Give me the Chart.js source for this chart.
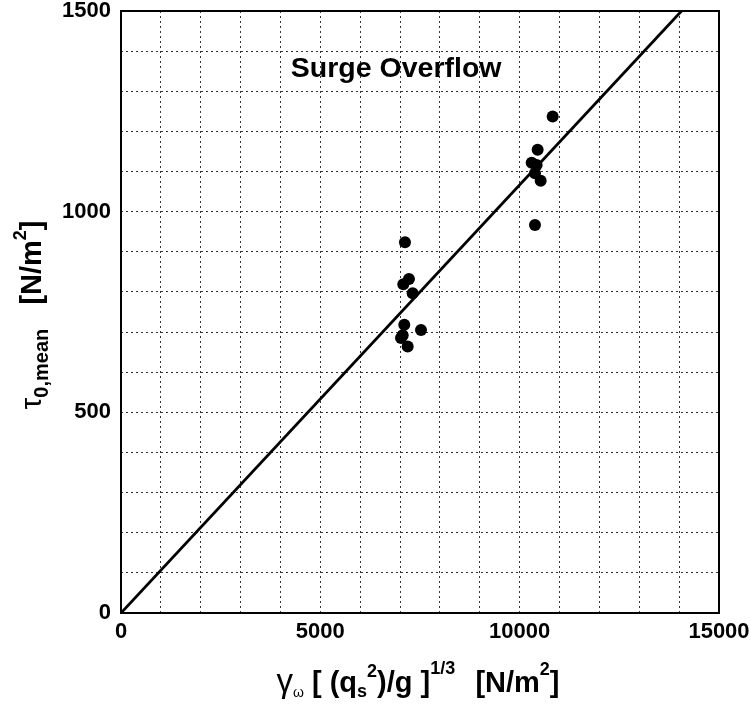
<!DOCTYPE html>
<html>
<head>
<meta charset="utf-8">
<script src="https://cdn.jsdelivr.net/npm/chart.js@4/dist/chart.umd.min.js"></script>
<style>
  html, body { margin: 0; padding: 0; background: #ffffff; }
  #wrap { width: 751px; height: 715px; position: relative; }
</style>
</head>
<body>
<div id="wrap"><canvas id="c" width="751" height="715"></canvas></div>
<script>
// ---- data ----
const measuredX = [10828, 10451, 10301, 10426, 10384, 10527, 10384, 7123, 7223, 7081, 7316, 7106, 7525, 7066, 7023, 7191];
const measuredY = [1237, 1154, 1122, 1116, 1096, 1077, 967, 924, 832, 819, 797, 718, 705, 692, 685, 664];
const fitLineX = [0, 14060];
const fitLineY = [0, 1500];
const xLabelTicks = [0, 5000, 10000, 15000];
const yLabelTicks = [0, 500, 1000, 1500];
const annotationText = 'Surge Overflow';
const annotationAt = [4260, 1336];

const FONT = '"Liberation Sans", Arial, Helvetica, sans-serif';

function drawRich(ctx, segs, align) {
  let total = 0;
  for (const s of segs) {
    ctx.font = (s.bold ? 'bold ' : '') + s.size + 'px ' + FONT;
    s.w = ctx.measureText(s.t).width;
    total += s.w + (s.pre || 0);
  }
  let x = align === 'center' ? -total / 2 : 0;
  for (const s of segs) {
    ctx.font = (s.bold ? 'bold ' : '') + s.size + 'px ' + FONT;
    x += (s.pre || 0);
    ctx.fillText(s.t, x, s.dy || 0);
    x += s.w;
  }
}

const S = 29, sm = 18;
const xTitle = [
  {t: 'γ', size: 33, bold: false},
  {t: 'ω', size: 14, bold: false, dy: 5},
  {t: ' [ (q', size: S, bold: true},
  {t: 's', size: sm, bold: true, dy: 5},
  {t: '2', size: sm, bold: true, dy: -15},
  {t: ')/g ]', size: S, bold: true},
  {t: '1/3', size: sm, bold: true, dy: -18},
  {t: '  [N/m', size: S, bold: true, pre: 4},
  {t: '2', size: sm, bold: true, dy: -17},
  {t: ']', size: S, bold: true}
];
const yTitle = [
  {t: 'τ', size: 30, bold: false},
  {t: '0,mean', size: 20, bold: true, dy: 7},
  {t: '   [N/m', size: S, bold: true},
  {t: '2', size: sm, bold: true, dy: -15},
  {t: ']', size: S, bold: true}
];

const decorPlugin = {
  id: 'decor',
  afterDraw(chart) {
    const {ctx, chartArea: a, scales} = chart;
    ctx.save();
    ctx.strokeStyle = '#000';
    ctx.lineWidth = 2;
    ctx.strokeRect(a.left, a.top, a.right - a.left, a.bottom - a.top);
    ctx.fillStyle = '#000';
    ctx.textBaseline = 'alphabetic';
    // annotation
    ctx.font = 'bold 28.5px ' + FONT;
    ctx.fillText(annotationText, scales.x.getPixelForValue(annotationAt[0]), scales.y.getPixelForValue(annotationAt[1]));
    // x title
    ctx.save();
    ctx.translate(418, 692);
    drawRich(ctx, xTitle, 'center');
    ctx.restore();
    // y title
    ctx.save();
    ctx.translate(41, 315);
    ctx.rotate(-Math.PI / 2);
    drawRich(ctx, yTitle, 'center');
    ctx.restore();
    ctx.restore();
  }
};

const gridCfg = { color: '#333', lineWidth: 1, drawTicks: false };

new Chart(document.getElementById('c'), {
  type: 'scatter',
  data: {
    datasets: [
      {
        type: 'line',
        data: fitLineX.map((x, i) => ({x, y: fitLineY[i]})),
        borderColor: '#000',
        borderWidth: 2.8,
        pointRadius: 0,
        fill: false
      },
      {
        data: measuredX.map((x, i) => ({x, y: measuredY[i]})),
        backgroundColor: '#000',
        borderColor: '#000',
        pointRadius: 6,
        pointHoverRadius: 6,
        borderWidth: 0
      }
    ]
  },
  options: {
    responsive: false,
    animation: false,
    events: [],
    layout: { padding: { left: 0, top: 11, right: 32, bottom: 0 } },
    plugins: { legend: { display: false }, tooltip: { enabled: false } },
    scales: {
      x: {
        type: 'linear', min: 0, max: 15000,
        ticks: {
          stepSize: 1000, padding: 6, color: '#000',
          font: { family: FONT, size: 22, weight: 'bold' },
          maxRotation: 0, autoSkip: false,
          callback: v => xLabelTicks.includes(v) ? String(v) : ''
        },
        grid: gridCfg,
        border: { display: false, dash: [2, 3] },
        afterFit(s) { s.height = 102; s.paddingLeft = 0; s.paddingRight = 0; }
      },
      y: {
        type: 'linear', min: 0, max: 1500,
        ticks: {
          stepSize: 100, padding: 10, color: '#000',
          font: { family: FONT, size: 22, weight: 'bold' },
          autoSkip: false,
          callback: v => yLabelTicks.includes(v) ? String(v) : ''
        },
        grid: gridCfg,
        border: { display: false, dash: [2, 3] },
        afterFit(s) { s.width = 121; s.paddingTop = 0; s.paddingBottom = 0; }
      }
    }
  },
  plugins: [decorPlugin]
});
</script>
</body>
</html>
